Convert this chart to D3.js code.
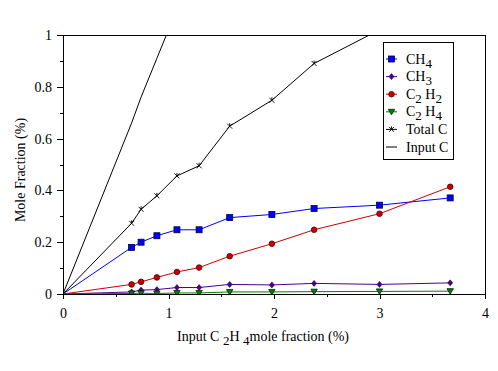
<!DOCTYPE html>
<html>
<head>
<meta charset="utf-8">
<script src="https://cdn.jsdelivr.net/npm/d3@7"></script>
<style>
  body { margin: 0; background: #fff; }
  svg text { font-family: "Liberation Serif", "Times New Roman", serif; }
</style>
</head>
<body>
<svg id="chart" width="498" height="371"></svg>
<script>
// input C2H4 mole fraction (%)
const xVals = [0, 0.65, 0.74, 0.89, 1.08, 1.29, 1.58, 1.98, 2.38, 3.0, 3.67];

const ch4 = [0, 0.18, 0.20, 0.225, 0.248, 0.248, 0.295, 0.307, 0.33, 0.343, 0.371];
const ch3 = [0, 0.008, 0.015, 0.017, 0.025, 0.025, 0.037, 0.035, 0.041, 0.037, 0.043];
const c2h2 = [0, 0.037, 0.047, 0.064, 0.085, 0.102, 0.146, 0.194, 0.248, 0.31, 0.414];
const c2h4 = [0, 0.002, 0.003, 0.002, 0.004, 0.004, 0.008, 0.008, 0.009, 0.01, 0.011];
const totalC = [0, 0.273, 0.327, 0.379, 0.456, 0.495, 0.648, 0.748, 0.89, 1.02, 1.26];
const inputC = [0, 0.66, 0.76, 0.91, 1.1, 1.32, 1.61, 2.02, 2.43, 3.06, 3.74];

const xTicks = [0, 1, 2, 3, 4];
const xMinor = [0.5, 1.5, 2.5, 3.5];
const yTicks = [0, 0.2, 0.4, 0.6, 0.8, 1];
const yTickLabels = ["0", "0.2", "0.4", "0.6", "0.8", "1"];
const yMinor = [0.1, 0.3, 0.5, 0.7, 0.9];

const series = [
  { label: ["CH", "4"], values: ch4, color: "#0000ff", marker: "square" },
  { label: ["CH", "3"], values: ch3, color: "#4b0090", marker: "diamond" },
  { label: ["C", "2", " H", "2"], values: c2h2, color: "#cc0000", marker: "circle" },
  { label: ["C", "2", " H", "4"], values: c2h4, color: "#008000", marker: "triangle" },
  { label: ["Total C"], values: totalC, color: "#000000", marker: "cross" },
  { label: ["Input C"], values: inputC, color: "#000000", marker: null }
];

const svg = d3.select("#chart");
const plotL = 63, plotR = 485, plotT = 35, plotB = 294;

const x = d3.scaleLinear().domain([0, 4]).range([plotL, plotR]);
const y = d3.scaleLinear().domain([0, 1]).range([plotB, plotT]);

// clip for lines that run past 1
svg.append("defs").append("clipPath").attr("id", "plot")
  .append("rect")
  .attr("x", plotL).attr("y", plotT)
  .attr("width", plotR - plotL).attr("height", plotB - plotT);

// --- axes ---
const xAxis = svg.append("g")
  .attr("transform", `translate(0,${plotB})`)
  .call(d3.axisBottom(x).tickValues(xTicks).tickSize(5).tickPadding(9).tickFormat(d3.format("d")));
const xAxisMinor = svg.append("g")
  .attr("transform", `translate(0,${plotB})`)
  .call(d3.axisBottom(x).tickValues(xMinor).tickSize(3).tickFormat(""));

const yAxis = svg.append("g")
  .attr("transform", `translate(${plotL},0)`)
  .call(d3.axisLeft(y).tickValues(yTicks).tickSize(6).tickPadding(5)
    .tickFormat((d, i) => yTickLabels[i]));
const yAxisMinor = svg.append("g")
  .attr("transform", `translate(${plotL},0)`)
  .call(d3.axisLeft(y).tickValues(yMinor).tickSize(3).tickFormat(""));

[xAxis, xAxisMinor, yAxis, yAxisMinor].forEach(a => {
  a.select(".domain").remove();
  a.selectAll("line").attr("stroke", "#000").attr("shape-rendering", "crispEdges");
  a.selectAll("text").attr("fill", "#000").style("font-size", "14px")
    .style("font-family", "'Liberation Serif', serif");
});

// frame
svg.append("rect")
  .attr("x", plotL + 0.5).attr("y", plotT + 0.5)
  .attr("width", plotR - plotL).attr("height", plotB - plotT)
  .attr("fill", "none").attr("stroke", "#000")
  .attr("shape-rendering", "crispEdges");

// --- lines ---
const line = d3.line()
  .x((d, i) => x(xVals[i]))
  .y(d => y(d));

const plot = svg.append("g").attr("clip-path", "url(#plot)");

series.forEach(s => {
  plot.append("path")
    .datum(s.values)
    .attr("fill", "none")
    .attr("stroke", s.color)
    .attr("stroke-width", 1)
    .attr("d", line);
});

// --- markers ---
function drawMarker(g, type, cx, cy, color) {
  if (type === "square") {
    g.append("rect").attr("x", cx - 3).attr("y", cy - 3).attr("width", 6).attr("height", 6)
      .attr("fill", color).attr("stroke", "#000040").attr("stroke-width", 0.8);
  } else if (type === "circle") {
    g.append("circle").attr("cx", cx).attr("cy", cy).attr("r", 2.8)
      .attr("fill", color).attr("stroke", "#400000").attr("stroke-width", 0.8);
  } else if (type === "diamond") {
    g.append("path")
      .attr("d", `M${cx},${cy - 3}L${cx + 2.5},${cy}L${cx},${cy + 3}L${cx - 2.5},${cy}Z`)
      .attr("fill", color).attr("stroke", "#200040").attr("stroke-width", 0.6);
  } else if (type === "triangle") {
    g.append("path")
      .attr("d", `M${cx - 3.2},${cy - 2.5}L${cx + 3.2},${cy - 2.5}L${cx},${cy + 3}Z`)
      .attr("fill", color).attr("stroke", "#002000").attr("stroke-width", 0.8);
  } else if (type === "cross") {
    g.append("path")
      .attr("d", `M${cx - 2.5},${cy - 2.5}L${cx + 2.5},${cy + 2.5}M${cx + 2.5},${cy - 2.5}L${cx - 2.5},${cy + 2.5}M${cx},${cy - 3}L${cx},${cy}`)
      .attr("fill", "none").attr("stroke", color).attr("stroke-width", 0.9);
  }
}

const markers = svg.append("g").attr("clip-path", "url(#plot)");
series.forEach(s => {
  if (!s.marker) return;
  s.values.forEach((v, i) => {
    if (i === 0) return;
    drawMarker(markers, s.marker, x(xVals[i]), y(v), s.color);
  });
});

// --- legend ---
const legend = svg.append("g");
legend.append("rect")
  .attr("x", 383.5).attr("y", 42.5).attr("width", 70).attr("height", 117)
  .attr("fill", "#fff").attr("stroke", "#000").attr("shape-rendering", "crispEdges");

series.forEach((s, i) => {
  const ly = 59 + i * 17.6;
  legend.append("line")
    .attr("x1", 386).attr("x2", 397).attr("y1", ly).attr("y2", ly)
    .attr("stroke", s.color);
  if (s.marker) drawMarker(legend, s.marker, 391.5, ly, s.color);
  const t = legend.append("text")
    .attr("x", 406).attr("y", ly + 4.5)
    .style("font-size", "14px");
  s.label.forEach((part, j) => {
    const sub = j % 2 === 1;
    t.append("tspan")
      .attr("dy", j === 0 ? 0 : (sub ? 4 : -4))
      .style("font-size", sub ? "13px" : "14px")
      .text(part);
  });
});

// --- axis titles ---
const xt = svg.append("text")
  .attr("x", 177).attr("y", 341)
  .style("font-size", "14px");
xt.append("tspan").text("Input C ");
xt.append("tspan").attr("dy", 4).style("font-size", "13px").text("2");
xt.append("tspan").attr("dy", -4).text("H ");
xt.append("tspan").attr("dy", 4).style("font-size", "13px").text("4");
xt.append("tspan").attr("dy", -4).text("mole fraction (%)");

svg.append("text")
  .attr("transform", "translate(25,170) rotate(-90)")
  .attr("text-anchor", "middle")
  .style("font-size", "14px")
  .text("Mole Fraction (%)");
</script>
</body>
</html>
